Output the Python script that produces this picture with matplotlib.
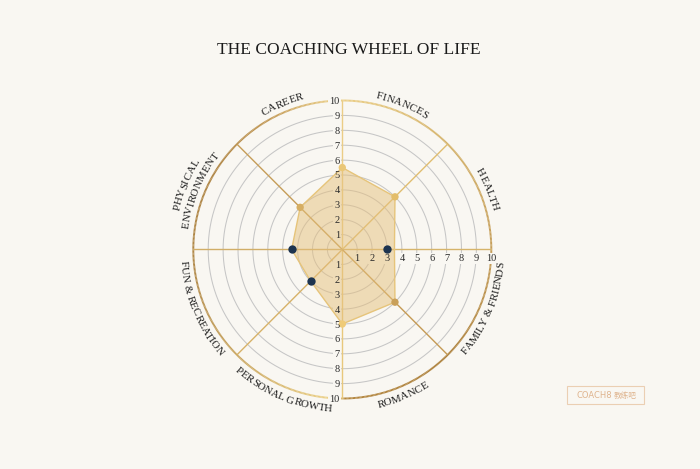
import numpy as np
import matplotlib
matplotlib.use("Agg")
import matplotlib.pyplot as plt
from matplotlib.collections import LineCollection
from matplotlib.colors import to_rgb
from matplotlib.font_manager import FontProperties, findfont
from matplotlib import ft2font
from matplotlib.patches import Rectangle

# ---- data ----
title = "THE COACHING WHEEL OF LIFE"
categories = ["HEALTH", "FINANCES", "CAREER", "PHYSICAL\nENVIRONMENT",
              "FUN & RECREATION", "PERSONAL GROWTH", "ROMANCE", "FAMILY & FRIENDS"]
spoke_angles = [0, 45, 90, 135, 180, 225, 270, 315]
area_values = [3.5, 5, 5.5, 4, 3.4, 3, 5, 5]
gold_angles = [45, 90, 135, 270, 315]
gold_values = [5, 5.5, 4, 5, 5]
navy_angles = [0, 180, 225]
navy_values = [3, 3.4, 3]
ticks = list(range(1, 11))

BG = "#f9f7f2"
SERIF = "Liberation Serif"
DPI = 100

fig = plt.figure(figsize=(7, 4.69), dpi=DPI, facecolor=BG)

# polar axes placed so that r=10 is a circle of 149 px around (342.3, 249.5)
cx, cy, rad = 342.3, 249.5, 149.0
ax = fig.add_axes([(cx - rad) / 700, (469 - cy - rad) / 469, 2 * rad / 700, 2 * rad / 469],
                  projection="polar")
ax.set_facecolor("none")
ax.set_ylim(0, 10)
ax.set_xticks([])
ax.set_yticks([])
ax.grid(False)
ax.spines["polar"].set_visible(False)
px_per_unit = rad / 10

# inner grey rings
th = np.linspace(0, 2 * np.pi, 721)
for r in ticks[:-1]:
    ax.plot(th, np.full_like(th, r), color="#c6c6c6", lw=0.75, zorder=1)

# outer ring with a gold gradient
stops = [(0, "#c59d58"), (45, "#d3b066"), (88, "#eacd84"), (92, "#eed28a"),
         (120, "#c09550"), (150, "#ad8240"), (190, "#b28a4a"), (230, "#cba75e"),
         (269, "#f0d68c"), (271, "#b3853c"), (315, "#ab7e38"), (360, "#c59d58")]
sa = np.array([s[0] for s in stops])
sc = np.array([to_rgb(s[1]) for s in stops])
deg = np.linspace(0, 360, 721)
pts = np.column_stack([np.radians(deg), np.full_like(deg, 10)])
segs = np.stack([pts[:-1], pts[1:]], axis=1)
mid = (deg[:-1] + deg[1:]) / 2
cols = np.column_stack([np.interp(mid, sa, sc[:, k]) for k in range(3)])
ring = LineCollection(segs, colors=cols, linewidths=1.4, zorder=1, clip_on=False)
ax.add_collection(ring)

# spokes
spoke_colors = ["#d6b46a", "#e0bd70", "#ebcd86", "#c69d58",
                "#d1ae68", "#d7b268", "#e8c87c", "#c59a54"]
for a, c in zip(spoke_angles, spoke_colors):
    ax.plot([0, np.radians(a)], [0, 10], color=c, lw=1.0, zorder=3,
            solid_capstyle="butt", clip_on=False)


# scale numbers (box first to cut the rings, then the text on top)
def scale_label(theta, r, dx, dy, ha, va):
    kw = dict(xy=(theta, r), xytext=(dx, dy), textcoords="offset points",
              ha=ha, va=va, fontsize=7.5, family=SERIF)
    ax.annotate(str(r), color=BG, zorder=2,
                bbox=dict(boxstyle="square,pad=0.12", fc=BG, ec="none"), **kw)
    ax.annotate(str(r), color="#2a2a2a", zorder=7, **kw)


for t in ticks:
    scale_label(np.pi / 2, t, -1.8, 0, "right", "center_baseline")
    scale_label(3 * np.pi / 2, t, -1.8, 0, "right", "center_baseline")
    scale_label(0, t, 0, -5.6, "center", "center_baseline")

# filled area and markers
ang = np.radians(spoke_angles + [spoke_angles[0]])
vals = area_values + [area_values[0]]
ax.fill(ang, vals, color="#e5c07c", alpha=0.5, lw=0, zorder=4)
ax.plot(ang, vals, color="#e6c47a", lw=1.0, zorder=5)
gold_colors = ["#e3bd6a", "#eac777", "#d6ae62", "#efcb78", "#c9a05a"]
ax.scatter(np.radians(gold_angles), gold_values, s=28, c=gold_colors, zorder=6, lw=0)
ax.scatter(np.radians(navy_angles), navy_values, s=36, c="#1d344f", zorder=6, lw=0)

# category labels bent along the circle, one text per letter
label_size = 7.8
ft = ft2font.FT2Font(findfont(FontProperties(family=SERIF)), hinting_factor=1)
ft.set_size(label_size, DPI)
try:
    KERN = ft2font.Kerning.DEFAULT
except AttributeError:
    KERN = 0


def glyph_metrics(ch):
    g = ft.load_char(ord(ch))
    adv = g.linearHoriAdvance / 65536
    if ch == " ":
        return adv, adv / 2
    return adv, g.horiBearingX / 64 + g.width / 128


def kern(a, b):
    try:
        return ft.get_kerning(ft.get_char_index(ord(a)), ft.get_char_index(ord(b)), KERN) / 64
    except Exception:
        return 0.0


def arc_text(s, theta_c, r, upper):
    centers = []
    x = 0.0
    for k, ch in enumerate(s):
        if k > 0:
            x += kern(s[k - 1], ch)
        adv, ink_c = glyph_metrics(ch)
        centers.append(x + ink_c)
        x += adv
    pos = np.array(centers) - x / 2
    for ch, p in zip(s, pos):
        if ch == " ":
            continue
        d = np.degrees(p / (r * px_per_unit))
        if upper:
            a = theta_c - d
            rot = a - 90
        else:
            a = theta_c + d
            rot = a + 90
        ax.text(np.radians(a), r, ch, rotation=rot, rotation_mode="anchor",
                ha="center", va="baseline", fontsize=label_size, family=SERIF,
                color="#1a1a1a", zorder=7)


for i, name in enumerate(categories):
    a = 22.5 + 45 * i
    if a < 180:
        lines = name.split("\n")
        for j, line in enumerate(reversed(lines)):
            arc_text(line, a, 10.4 + 0.84 * j, True)
    else:
        arc_text(name, a, 10.9, False)

fig.text(349 / 700, 1 - 54 / 469, title, ha="center", va="baseline",
         fontsize=12.6, family=SERIF, color="#1a1a1a")

# logo box
fig.patches.append(Rectangle((567.3 / 700, 1 - 404.3 / 469), 76.7 / 700, 18.3 / 469,
                             transform=fig.transFigure, fill=False,
                             ec="#ebcfb3", lw=0.8))
fig.text(594 / 700, 1 - 395.5 / 469, "COACH8", ha="center", va="center",
         fontsize=6, color="#dfb48e", family="DejaVu Sans")
fig.text(625 / 700, 1 - 395.5 / 469, "教练吧", ha="center", va="center",
         fontsize=5.5, color="#dfb48e", family=["Noto Sans CJK SC", "DejaVu Sans"])

fig.savefig("out.png", dpi=DPI, facecolor=BG)
